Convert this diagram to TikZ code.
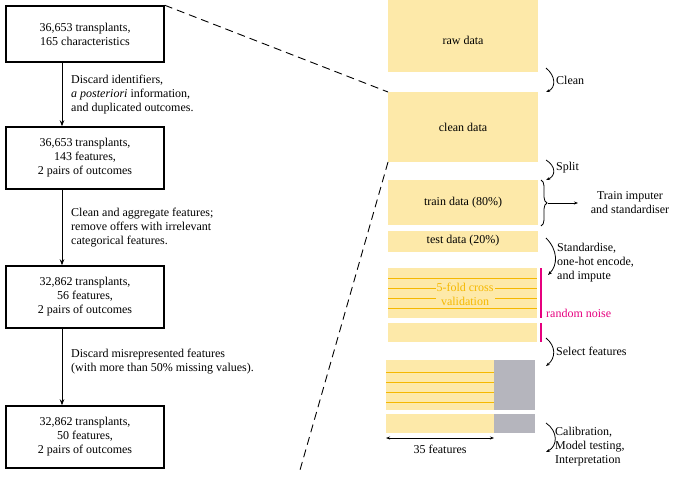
\documentclass[tikz,border=0pt]{standalone}
\usepackage{fontspec}
\setmainfont{Liberation Serif}
\usetikzlibrary{arrows.meta,decorations.pathreplacing}
\definecolor{yel}{HTML}{FDE9A9}
\definecolor{org}{HTML}{F5B800}
\definecolor{gr}{HTML}{B5B5BD}
\definecolor{mag}{HTML}{E6007E}
\begin{document}
\begin{tikzpicture}[x=1pt,y=-1pt,font=\fontsize{12}{14}\selectfont,
 lbox/.style={draw,line width=1.5pt,align=center,minimum width=158pt,inner sep=3pt},
 ar/.style={-{Stealth[length=6pt]},line width=0.9pt},
 barr/.style={-{Stealth[length=4pt]},line width=0.8pt},
 ytx/.style={align=left,anchor=west,inner sep=1pt},
 zoomln/.style={dash pattern=on 8pt off 5pt,line width=0.9pt}]
\useasboundingbox (0,0) rectangle (685,480);
% left column
\node[lbox,minimum height=56pt] (b1) at (85,34) {36,653 transplants,\\165 characteristics};
\node[lbox,minimum height=62pt] (b2) at (85,158) {36,653 transplants,\\143 features,\\2 pairs of outcomes};
\node[lbox,minimum height=62pt] (b3) at (85,297) {32,862 transplants,\\56 features,\\2 pairs of outcomes};
\node[lbox,minimum height=62pt] (b4) at (85,437) {32,862 transplants,\\50 features,\\2 pairs of outcomes};
\draw[ar] (b1.south -| 62,0) -- (b2.north -| 62,0);
\draw[ar] (b2.south -| 62,0) -- (b3.north -| 62,0);
\draw[ar] (b3.south -| 62,0) -- (b4.north -| 62,0);
\node[ytx] (t1) at (70,95) {Discard identifiers,\\\textit{a posteriori} information,\\and duplicated outcomes.};
\node[ytx] (t2) at (70,228) {Clean and aggregate features;\\remove offers with irrelevant\\categorical features.};
\node[ytx] (t3) at (70,362) {Discard misrepresented features\\(with more than 50\% missing values).};
% right column
\fill[yel] (388,0) rectangle (538,72); \node (raw) at (463,40) {raw data};
\fill[yel] (388,92) rectangle (538,162); \node (cl) at (463,127) {clean data};
\fill[yel] (388,180) rectangle (538,225); \node (tr) at (463,203) {train data (80\%)};
\fill[yel] (388,231) rectangle (538,252); \node (te) at (463,241) {test data (20\%)};
\fill[yel] (388,268) rectangle (537,318);
\foreach \y in {278,288,298,308} \draw[org,line width=1pt] (388,\y) -- (537,\y);
\node[fill=yel,text=org,align=center,inner sep=1pt] (cv) at (465,294) {5-fold cross\\validation};
\fill[yel] (388,323) rectangle (537,342);
\draw[mag,line width=2.5pt] (541,268) -- (541,318) (541,323) -- (541,342);
\node[ytx,text=mag] (rn) at (545,313) {random noise};
\fill[yel] (386,360) rectangle (494,410); \fill[gr] (494,360) rectangle (535,410);
\foreach \y in {372,382,392,402} \draw[org,line width=1pt] (386,\y) -- (494,\y);
\fill[yel] (386,414) rectangle (494,433); \fill[gr] (494,414) rectangle (535,433);
\coordinate (fl) at (386,438); \coordinate (fr) at (494,438);
\draw[{Stealth[length=4pt]}-{Stealth[length=4pt]},line width=0.8pt] (fl) -- (fr);
\node (f35) at (440,449) {35 features};
% bent arrows
\draw[barr] (546,68) .. controls (556,76) and (556,88) .. (546,92);
\node[ytx] (clean) at (555,80) {Clean};
\draw[barr] (546,160) .. controls (556,166) and (556,176) .. (546,180);
\node[ytx] (split) at (555,168) {Split};
\draw[line width=0.8pt,decorate,decoration={brace,amplitude=6pt}] (541,180) -- (541,226);
\coordinate (bt) at (548,203); \coordinate (be) at (578,203);
\draw[barr] (bt) -- (be);
\node[align=center] (ti) at (630,203) {Train imputer\\and standardiser};
\draw[barr] (546,238) .. controls (558,250) and (558,265) .. (548,275);
\node[ytx] (std) at (556,263) {Standardise,\\one-hot encode,\\and impute};
\draw[barr] (546,338) .. controls (556,346) and (556,358) .. (546,366);
\node[ytx] (sel) at (555,351) {Select features};
\draw[barr] (546,423) .. controls (558,431) and (558,446) .. (546,452);
\node[ytx] (cal) at (554,447) {Calibration,\\Model testing,\\Interpretation};
% dashed zoom lines
\draw[zoomln] (b1.north east) -- (388,92);
\draw[zoomln] (388,162) -- (300,470);
\end{tikzpicture}
\end{document}
